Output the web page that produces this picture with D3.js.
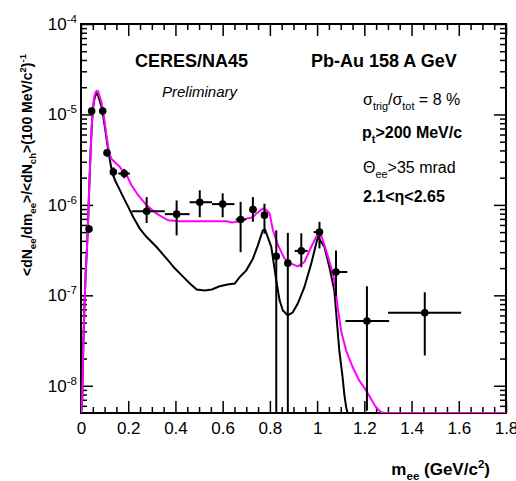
<!DOCTYPE html>
<html>
<head>
<meta charset="utf-8">
<script src="https://cdn.jsdelivr.net/npm/d3@7"></script>
<style>
  body { margin: 0; background: #fff; }
  svg { display: block; font-family: "Liberation Sans", Arial, Helvetica, sans-serif; }
</style>
</head>
<body>
<svg id="chart" width="516" height="481"></svg>
<script>
// Measured e+e- pair yield (points with horizontal bin width and vertical errors)
const ptMass    = [0.034, 0.045, 0.092, 0.11, 0.137, 0.183, 0.278, 0.405, 0.503, 0.60, 0.676, 0.728, 0.777, 0.827, 0.876, 0.933, 1.01, 1.08, 1.211, 1.456];
const ptYield   = [5.4e-7, 1.09e-5, 1.09e-5, 3.76e-6, 2.31e-6, 2.22e-6, 8.5e-7, 7.9e-7, 1.07e-6, 1.02e-6, 6.9e-7, 8.9e-7, 7.7e-7, 2.7e-7, 2.27e-7, 3.1e-7, 5.0e-7, 1.81e-7, 5.2e-8, 6.4e-8];
const ptMassLo  = [0.03, 0.04, 0.087, 0.105, 0.13, 0.158, 0.215, 0.355, 0.46, 0.555, 0.655, 0.715, 0.765, 0.82, 0.87, 0.905, 0.985, 1.06, 1.12, 1.30];
const ptMassHi  = [0.038, 0.05, 0.097, 0.115, 0.145, 0.207, 0.355, 0.46, 0.555, 0.65, 0.70, 0.745, 0.79, 0.835, 0.882, 0.96, 1.025, 1.128, 1.305, 1.61];
const ptYieldLo = [4.9e-7, 9.8e-6, 9.8e-6, 3.4e-6, 2.05e-6, 1.97e-6, 6.3e-7, 4.6e-7, 7.3e-7, 7.3e-7, 3.0e-7, 6.5e-7, 4.8e-7, 1e-9, 1e-9, 2.04e-7, 3.3e-7, 9.7e-8, 5.3e-9, 2.16e-8];
const ptYieldHi = [6.0e-7, 1.2e-5, 1.2e-5, 4.15e-6, 2.6e-6, 2.5e-6, 1.22e-6, 1.12e-6, 1.45e-6, 1.34e-6, 1.08e-6, 1.22e-6, 1.03e-6, 5.24e-7, 4.9e-7, 4.85e-7, 6.5e-7, 3.14e-7, 1.26e-7, 1.08e-7];

// Hadronic cocktail (black)
const cocktailMass  = [0, 0.005, 0.01, 0.015, 0.02, 0.025, 0.03, 0.035, 0.04, 0.045, 0.05, 0.055, 0.06, 0.066, 0.073, 0.08, 0.087, 0.094, 0.101, 0.115, 0.13, 0.144, 0.158, 0.179, 0.2, 0.221, 0.249, 0.278, 0.32, 0.369, 0.397, 0.431, 0.461, 0.49, 0.524, 0.554, 0.587, 0.621, 0.651, 0.672, 0.7, 0.728, 0.749, 0.77, 0.78, 0.806, 0.827, 0.841, 0.855, 0.876, 0.897, 0.918, 0.946, 0.975, 1.003, 1.031, 1.052, 1.073, 1.08, 1.094, 1.108, 1.115, 1.123, 1.129, 1.8];
const cocktailYield = [5e-9, 7e-9, 3e-8, 8e-8, 1.8e-7, 3.2e-7, 6.5e-7, 1.6e-6, 3.5e-6, 7e-6, 1.1e-5, 1.4e-5, 1.6e-5, 1.72e-5, 1.6e-5, 1.4e-5, 1.21e-5, 9.5e-6, 7.3e-6, 4.03e-6, 2.42e-6, 1.87e-6, 1.58e-6, 1.22e-6, 9.5e-7, 7.35e-7, 5.47e-7, 4.41e-7, 3.42e-7, 2.43e-7, 1.99e-7, 1.62e-7, 1.35e-7, 1.16e-7, 1.13e-7, 1.16e-7, 1.26e-7, 1.32e-7, 1.35e-7, 1.59e-7, 1.89e-7, 2.54e-7, 3.57e-7, 5.24e-7, 5.3e-7, 3.42e-7, 1.46e-7, 8.8e-8, 6.8e-8, 6.0e-8, 6.5e-8, 8.1e-8, 1.23e-7, 2.24e-7, 4.41e-7, 3.42e-7, 2.05e-7, 1.13e-7, 6.8e-8, 2.45e-8, 1.24e-8, 8.1e-9, 5.8e-9, 5e-9, 5e-9];

// Cocktail plus in-medium contribution (magenta)
const totalMass  = [0, 0.005, 0.01, 0.015, 0.02, 0.025, 0.03, 0.035, 0.04, 0.045, 0.05, 0.055, 0.06, 0.066, 0.073, 0.08, 0.087, 0.094, 0.101, 0.108, 0.115, 0.122, 0.13, 0.136, 0.15, 0.165, 0.179, 0.193, 0.214, 0.242, 0.278, 0.32, 0.369, 0.418, 0.5, 0.58, 0.616, 0.64, 0.658, 0.7, 0.728, 0.742, 0.77, 0.785, 0.799, 0.813, 0.834, 0.862, 0.89, 0.918, 0.946, 0.975, 1.003, 1.017, 1.038, 1.059, 1.073, 1.087, 1.102, 1.123, 1.151, 1.179, 1.207, 1.228, 1.249, 1.271, 1.29, 1.8];
const totalYield = [5e-9, 7e-9, 3e-8, 8e-8, 1.8e-7, 3.2e-7, 6.5e-7, 1.6e-6, 3.5e-6, 7e-6, 1.15e-5, 1.5e-5, 1.72e-5, 1.82e-5, 1.8e-5, 1.55e-5, 1.35e-5, 1.05e-5, 8.0e-6, 5.8e-6, 4.4e-6, 3.6e-6, 3.2e-6, 3.1e-6, 2.85e-6, 2.63e-6, 2.3e-6, 2.13e-6, 1.65e-6, 1.28e-6, 9.9e-7, 8.0e-7, 6.75e-7, 6.6e-7, 6.6e-7, 6.6e-7, 6.6e-7, 6.4e-7, 6.5e-7, 7.05e-7, 7.3e-7, 8.0e-7, 9.1e-7, 8.8e-7, 8.0e-7, 5.24e-7, 3.6e-7, 2.54e-7, 2.24e-7, 2.09e-7, 2.33e-7, 3.42e-7, 4.81e-7, 4.61e-7, 3.14e-7, 2.05e-7, 1.46e-7, 7.4e-8, 4.0e-8, 2.45e-8, 1.6e-8, 1.14e-8, 8.9e-9, 7.2e-9, 5.8e-9, 5.1e-9, 5e-9, 5e-9];

// Axis ticks
const xMajorTicks = [0, 0.2, 0.4, 0.6, 0.8, 1.0, 1.2, 1.4, 1.6, 1.8];
const xTickLabels = ["0", "0.2", "0.4", "0.6", "0.8", "1", "1.2", "1.4", "1.6", "1.8"];
const yMajorTicks = [1e-8, 1e-7, 1e-6, 1e-5, 1e-4];
const yTickExponents = ["-8", "-7", "-6", "-5", "-4"];

const M = { left: 81, right: 506, top: 24, bottom: 413 };
const svg = d3.select("#chart");

const x = d3.scaleLinear().domain([0, 1.8]).range([M.left, M.right]);
const y = d3.scaleLog().domain([5e-9, 1e-4]).range([M.bottom, M.top]).clamp(true);

// minor ticks
const xMinorTicks = d3.range(1, 36).map(i => i * 0.05).filter((v, i) => (i + 1) % 4 !== 0);
const yMinorTicks = [];
for (let k = -9; k <= -5; k++) for (let j = 2; j <= 9; j++) {
  const v = j * Math.pow(10, k);
  if (v > 5e-9 && v < 1e-4) yMinorTicks.push(v);
}

// text with sub/superscript parts
function rich(sel, parts, size) {
  let shift = 0;
  parts.forEach(p => {
    const target = p.sub ? size * 0.3 : p.sup ? -size * 0.42 : 0;
    sel.append("tspan")
      .attr("dy", target - shift)
      .attr("font-size", (p.sub || p.sup) ? size * 0.68 : size)
      .text(p.t);
    shift = target;
  });
}

function styleAxis(g) {
  g.select(".domain").remove();
  g.selectAll(".tick line").attr("stroke", "#000").attr("stroke-width", 1.5);
}

// bottom axis
svg.append("g").attr("transform", `translate(0,${M.bottom})`)
  .call(d3.axisBottom(x).tickValues(xMajorTicks).tickSize(-12).tickPadding(9)
    .tickFormat((d, i) => xTickLabels[i]))
  .call(styleAxis)
  .call(g => g.selectAll("text").attr("font-size", 17).attr("fill", "#000")
    .attr("font-family", "Liberation Sans, Arial, sans-serif"));
svg.append("g").attr("transform", `translate(0,${M.bottom})`)
  .call(d3.axisBottom(x).tickValues(xMinorTicks).tickSize(-6).tickFormat(""))
  .call(styleAxis);

// top axis
svg.append("g").attr("transform", `translate(0,${M.top})`)
  .call(d3.axisTop(x).tickValues(xMajorTicks).tickSize(-12).tickFormat(""))
  .call(styleAxis);
svg.append("g").attr("transform", `translate(0,${M.top})`)
  .call(d3.axisTop(x).tickValues(xMinorTicks).tickSize(-6).tickFormat(""))
  .call(styleAxis);

// left axis
svg.append("g").attr("transform", `translate(${M.left},0)`)
  .call(d3.axisLeft(y).tickValues(yMajorTicks).tickSize(-12).tickFormat(""))
  .call(styleAxis);
svg.append("g").attr("transform", `translate(${M.left},0)`)
  .call(d3.axisLeft(y).tickValues(yMinorTicks).tickSize(-6).tickFormat(""))
  .call(styleAxis);

// right axis
svg.append("g").attr("transform", `translate(${M.right},0)`)
  .call(d3.axisRight(y).tickValues(yMajorTicks).tickSize(-12).tickFormat(""))
  .call(styleAxis);
svg.append("g").attr("transform", `translate(${M.right},0)`)
  .call(d3.axisRight(y).tickValues(yMinorTicks).tickSize(-6).tickFormat(""))
  .call(styleAxis);

// y tick labels as powers of ten
yMajorTicks.forEach((v, i) => {
  const t = svg.append("text")
    .attr("x", 77).attr("y", y(v) + 6)
    .attr("text-anchor", "end").attr("fill", "#000");
  rich(t, [{ t: "10" }, { t: yTickExponents[i], sup: true }], 17);
});

// frame
svg.append("rect")
  .attr("x", M.left).attr("y", M.top)
  .attr("width", M.right - M.left).attr("height", M.bottom - M.top)
  .attr("fill", "none").attr("stroke", "#000").attr("stroke-width", 2);

// clip region
svg.append("clipPath").attr("id", "plot-clip").append("rect")
  .attr("x", M.left).attr("y", M.top)
  .attr("width", M.right - M.left).attr("height", M.bottom - M.top);
const plot = svg.append("g").attr("clip-path", "url(#plot-clip)");

const line = d3.line().x(d => x(d[0])).y(d => y(d[1]));

plot.append("path")
  .datum(d3.zip(cocktailMass, cocktailYield))
  .attr("d", line).attr("fill", "none")
  .attr("stroke", "#000").attr("stroke-width", 2).attr("stroke-linejoin", "miter");

plot.append("path")
  .datum(d3.zip(totalMass, totalYield))
  .attr("d", line).attr("fill", "none")
  .attr("stroke", "#ff00ff").attr("stroke-width", 2).attr("stroke-linejoin", "miter");

// data points with error bars
const pts = ptMass.map((m, i) => ({
  m, v: ptYield[i], mLo: ptMassLo[i], mHi: ptMassHi[i], vLo: ptYieldLo[i], vHi: ptYieldHi[i]
}));
const pg = plot.append("g").selectAll("g").data(pts).join("g");
pg.append("line")
  .attr("x1", d => x(d.mLo)).attr("x2", d => x(d.mHi))
  .attr("y1", d => y(d.v)).attr("y2", d => y(d.v))
  .attr("stroke", "#000").attr("stroke-width", 2);
pg.append("line")
  .attr("x1", d => x(d.m)).attr("x2", d => x(d.m))
  .attr("y1", d => y(d.vLo)).attr("y2", d => y(d.vHi))
  .attr("stroke", "#000").attr("stroke-width", 2);
pg.append("circle")
  .attr("cx", d => x(d.m)).attr("cy", d => y(d.v)).attr("r", 3.8)
  .attr("fill", "#000");

// title fragment at the top edge
svg.append("text").attr("x", 286).attr("y", -6)
  .attr("font-size", 28).attr("font-weight", "bold").attr("fill", "#000").text("pp");

// annotations
svg.append("text").attr("x", 135).attr("y", 67)
  .attr("font-size", 18).attr("font-weight", "bold").attr("fill", "#000").text("CERES/NA45");
svg.append("text").attr("x", 311).attr("y", 67)
  .attr("font-size", 18).attr("font-weight", "bold").attr("fill", "#000").text("Pb-Au 158 A GeV");
svg.append("text").attr("x", 162).attr("y", 97)
  .attr("font-size", 15).attr("font-style", "italic").attr("fill", "#000").text("Preliminary");

const a1 = svg.append("text").attr("x", 363).attr("y", 105).attr("fill", "#000");
rich(a1, [{ t: "σ" }, { t: "trig", sub: true }, { t: "/σ" }, { t: "tot", sub: true }, { t: " = 8 %" }], 16);
const a2 = svg.append("text").attr("x", 362).attr("y", 138).attr("fill", "#000").attr("font-weight", "bold");
rich(a2, [{ t: "p" }, { t: "t", sub: true }, { t: ">200 MeV/c" }], 16);
const a3 = svg.append("text").attr("x", 363).attr("y", 173).attr("fill", "#000");
rich(a3, [{ t: "Θ" }, { t: "ee", sub: true }, { t: ">35 mrad" }], 16);
svg.append("text").attr("x", 363).attr("y", 202).attr("fill", "#000")
  .attr("font-size", 16).attr("font-weight", "bold").text("2.1<η<2.65");

// axis titles
const xt = svg.append("text").attr("x", 490).attr("y", 475)
  .attr("text-anchor", "end").attr("font-weight", "bold").attr("fill", "#000");
rich(xt, [{ t: "m" }, { t: "ee", sub: true }, { t: " (GeV/c" }, { t: "2", sup: true }, { t: ")" }], 17);

const yt = svg.append("text")
  .attr("transform", "translate(32,165) rotate(-90)")
  .attr("text-anchor", "middle").attr("font-weight", "bold").attr("fill", "#000");
rich(yt, [
  { t: "<dN" }, { t: "ee", sub: true }, { t: "/dm" }, { t: "ee", sub: true },
  { t: ">/<dN" }, { t: "ch", sub: true }, { t: ">(100 MeV/c" }, { t: "2", sup: true },
  { t: ")" }, { t: "-1", sup: true }
], 14);
</script>
</body>
</html>
